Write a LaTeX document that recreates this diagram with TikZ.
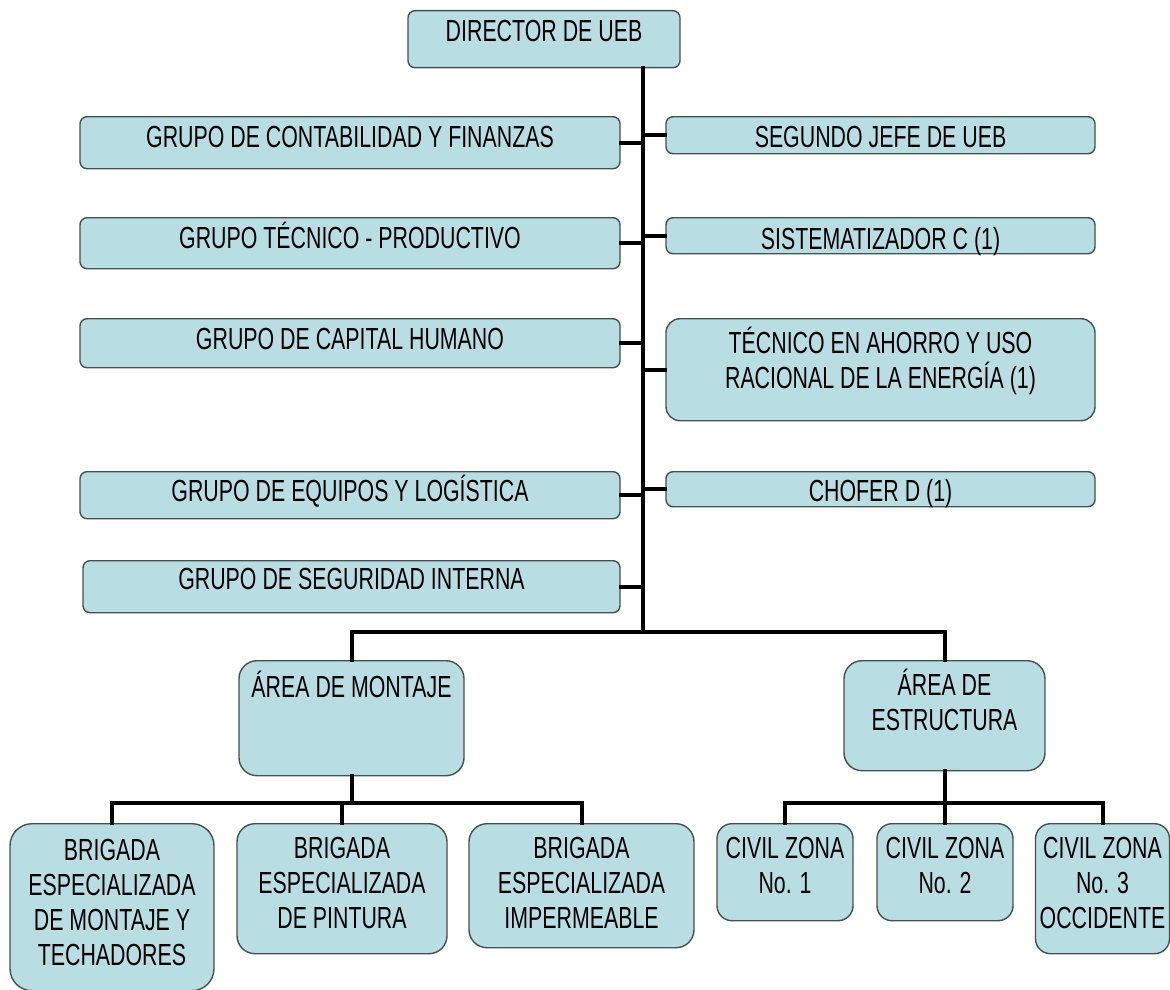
\documentclass[tikz,border=0pt]{standalone}
\usepackage{fontspec}
\setmainfont{Liberation Sans}[FakeStretch=0.70]
\definecolor{cajafill}{RGB}{184,222,227}
\definecolor{cajaborde}{RGB}{70,80,80}
\newcommand{\primera}{\rule{0pt}{28pt}}

\begin{document}
\begin{tikzpicture}[
									x = 1pt,
									y = -1pt,
									cj/.style = {
										draw = cajaborde,
										fill = cajafill,
										line width = 1.4pt,
										rectangle,
										rounded corners = 7pt,
										inner sep = 0,
										anchor = north,
										align = center,
										font = \fontsize{30.5}{35}\selectfont
									},
									cg/.style = {
										cj,
										rounded corners = 18pt
									},
									tx/.style = {
										anchor = north,
										yshift = -7pt,
										inner sep = 0,
										align = center,
										font = \fontsize{30.5}{35}\selectfont
									},
									ln/.style = {
										line width = 4pt,
										line cap = rect
									}
								]
							\useasboundingbox (0, 0) rectangle (1170, 990);

							\coordinate (hub) at (643, 632);
							\coordinate (lvl) at (0, 803);

							\node [cj, minimum width = 272pt, text height = 31pt, text depth = 26pt] (dir) at (544, 10) {DIRECTOR DE UEB};

							\node [cj, minimum width = 540pt, text height = 31pt, text depth = 21pt] (conta) at (350, 116) {GRUPO DE CONTABILIDAD Y FINANZAS};
							\node [cj, minimum width = 540pt, text height = 31pt, text depth = 20pt] (tecp)  at (350, 217) {GRUPO TÉCNICO - PRODUCTIVO};
							\node [cj, minimum width = 540pt, text height = 31pt, text depth = 18pt] (capit) at (350, 318) {GRUPO DE CAPITAL HUMANO};
							\node [cj, minimum width = 540pt, text height = 30pt, text depth = 17pt] (equip) at (350, 471) {GRUPO DE EQUIPOS Y LOGÍSTICA};
							\node [cj, minimum width = 537pt, text height = 29pt, text depth = 23pt] (segur) at (351.5, 560) {GRUPO DE SEGURIDAD INTERNA};

							\node [cj, minimum width = 429pt, text height = 31pt, text depth = 6pt] (segj) at (880.5, 116) {SEGUNDO JEFE DE UEB};
							\node [cj, minimum width = 429pt, text height = 32pt, text depth = 4pt] (sist) at (880.5, 217) {SISTEMATIZADOR C (1)};
							\node [cj, minimum width = 429pt, minimum height = 102pt, rounded corners = 14pt,
								label = {[tx]north:{\primera TÉCNICO EN AHORRO Y USO\\RACIONAL DE LA ENERGÍA (1)}}] (ahorro) at (880.5, 318) {};
							\node [cj, minimum width = 429pt, text height = 30pt, text depth = 5pt] (chof) at (880.5, 471) {CHOFER D (1)};

							\node [cg, minimum width = 225pt, text height = 37pt, text depth = 78pt] (mont) at (351.5, 660) {ÁREA DE MONTAJE};
							\node [cg, minimum width = 201pt, minimum height = 110pt,
								label = {[tx]north:{\primera ÁREA DE\\ESTRUCTURA}}] (estr) at (944.5, 660) {};

							\node [cg, minimum width = 204pt, minimum height = 167pt, rounded corners = 22pt,
								label = {[tx, yshift = -2pt]north:{\primera BRIGADA\\ESPECIALIZADA\\DE MONTAJE Y\\TECHADORES}}] (techa) at (112, 823) {};
							\node [cg, minimum width = 210pt, minimum height = 130pt,
								label = {[tx]north:{\primera BRIGADA\\ESPECIALIZADA\\DE PINTURA}}] (pint) at (342, 823) {};
							\node [cg, minimum width = 225pt, minimum height = 124pt,
								label = {[tx]north:{\primera BRIGADA\\ESPECIALIZADA\\IMPERMEABLE}}] (imper) at (581.5, 823) {};

							\node [cg, minimum width = 136pt, minimum height = 97pt, rounded corners = 15pt,
								label = {[tx]north:{\primera CIVIL ZONA\\No. 1}}] (civ1) at (785, 823) {};
							\node [cg, minimum width = 136pt, minimum height = 97pt, rounded corners = 15pt,
								label = {[tx]north:{\primera CIVIL ZONA\\No. 2}}] (civ2) at (945, 823) {};
							\node [cg, minimum width = 134pt, minimum height = 130pt, rounded corners = 15pt,
								label = {[tx]north:{\primera CIVIL ZONA\\No. 3\\OCCIDENTE}}] (civ3) at (1102.5, 823) {};

							\draw [ln] (dir.south -| hub) -- (hub);

							\draw [ln] (conta.east) -- (conta.east -| hub);
							\draw [ln] (tecp.east)  -- (tecp.east -| hub);
							\draw [ln] (capit.east) -- (capit.east -| hub);
							\draw [ln] (equip.east) -- (equip.east -| hub);
							\draw [ln] (segur.east) -- (segur.east -| hub);

							\draw [ln] (segj.west)   -- (segj.west -| hub);
							\draw [ln] (sist.west)   -- (sist.west -| hub);
							\draw [ln] (ahorro.west) -- (ahorro.west -| hub);
							\draw [ln] (chof.west)   -- (chof.west -| hub);

							\draw [ln] (mont.north) |- (hub) -| (estr.north);

							\draw [ln] (mont.south) -- (mont.south |- lvl);
							\draw [ln] (techa.north) -- (techa.north |- lvl) -- (imper.north |- lvl) -- (imper.north);
							\draw [ln] (pint.north) -- (pint.north |- lvl);

							\draw [ln] (estr.south) -- (estr.south |- lvl);
							\draw [ln] (civ1.north) -- (civ1.north |- lvl) -- (civ3.north |- lvl) -- (civ3.north);
							\draw [ln] (civ2.north) -- (civ2.north |- lvl);
						\end{tikzpicture}
\end{document}
